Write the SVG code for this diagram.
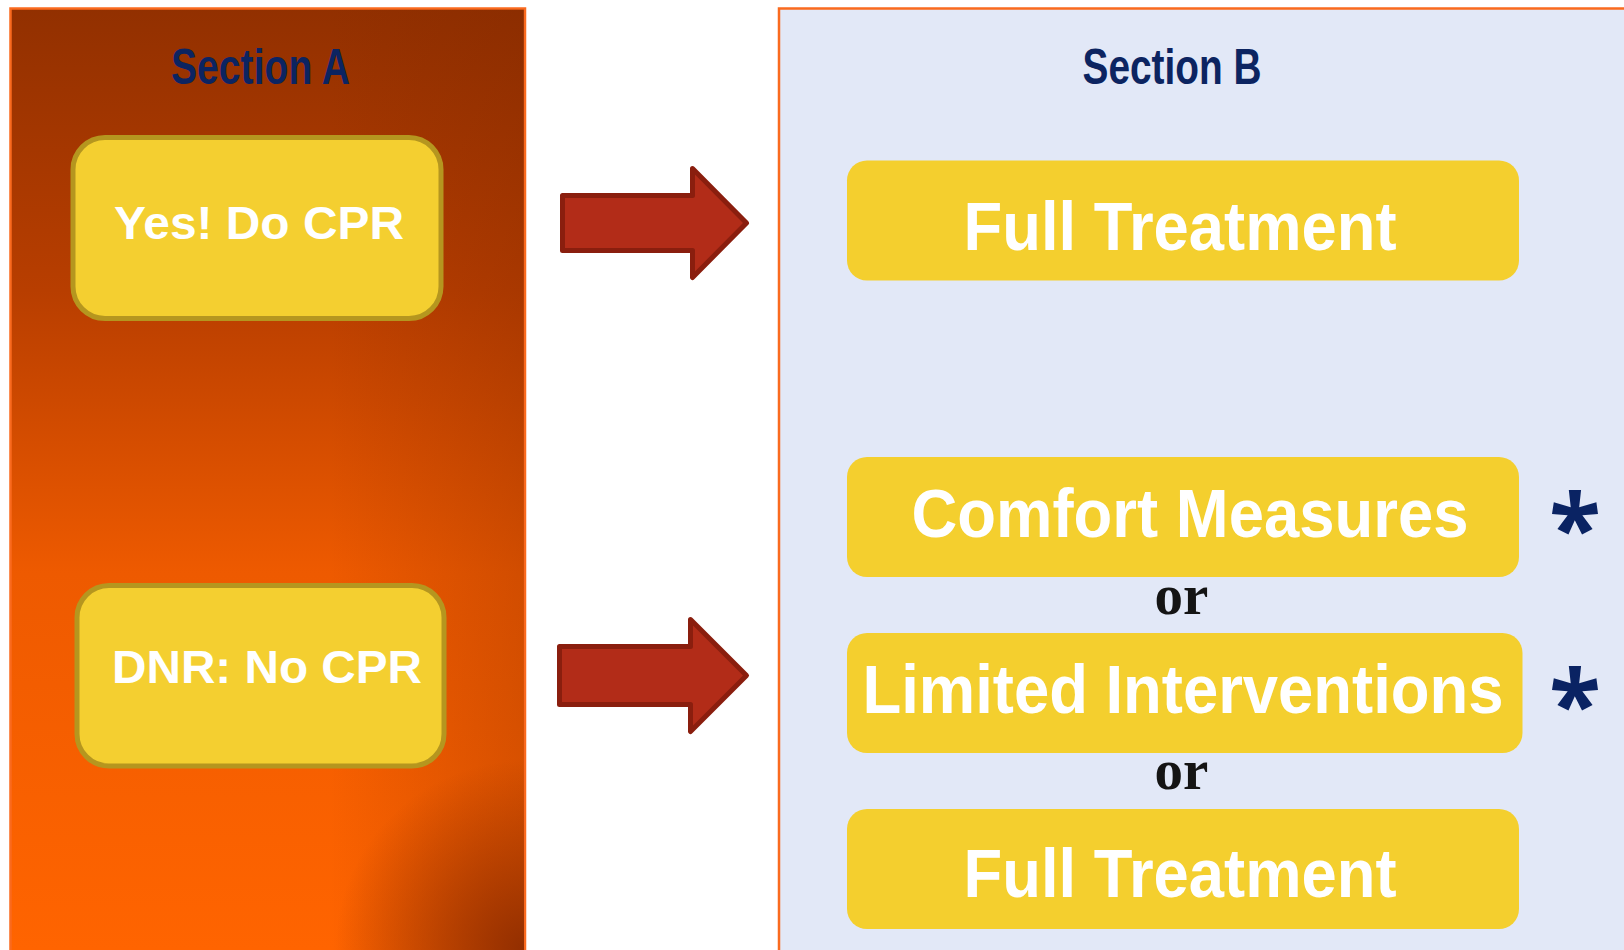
<svg xmlns="http://www.w3.org/2000/svg" width="1624" height="950" viewBox="0 0 1624 950">
  <defs>
    <linearGradient id="gA" x1="0" y1="8" x2="0" y2="950" gradientUnits="userSpaceOnUse">
      <stop offset="0" stop-color="#923000"/>
      <stop offset="0.3" stop-color="#B83E00"/>
      <stop offset="0.6" stop-color="#EE5A00"/>
      <stop offset="1" stop-color="#FF6400"/>
    </linearGradient>
    <linearGradient id="gAside" x1="330" y1="0" x2="525" y2="0" gradientUnits="userSpaceOnUse">
      <stop offset="0" stop-color="#7A2400" stop-opacity="0"/>
      <stop offset="1" stop-color="#7A2400" stop-opacity="0.25"/>
    </linearGradient>
    <radialGradient id="gAcorner" cx="525" cy="950" r="190" gradientUnits="userSpaceOnUse">
      <stop offset="0" stop-color="#8A2A00" stop-opacity="0.9"/>
      <stop offset="1" stop-color="#8A2A00" stop-opacity="0"/>
    </radialGradient>
    <style>
      .panel { stroke: #FA6A1E; stroke-width: 2.5; }
      .title { font-family: "Liberation Sans Narrow", "Liberation Sans", Arial, sans-serif; font-weight: bold; font-size: 50px; fill: #0C2461; text-anchor: middle; }
      .boxA { fill: #F4CF30; stroke: #B5961F; stroke-width: 5; }
      .txtA { font-family: "Liberation Sans", Arial, sans-serif; font-weight: bold; font-size: 47px; fill: #FFFFFF; text-anchor: middle; }
      .boxB { fill: #F4CF2E; }
      .txtB { font-family: "Liberation Sans Narrow", "Liberation Sans", Arial, sans-serif; font-weight: bold; font-size: 69px; fill: #FFFFFF; text-anchor: middle; }
      .or { font-family: "Liberation Serif", "Times New Roman", serif; font-weight: bold; font-size: 57px; fill: #141414; text-anchor: middle; }
      .star { font-family: "Noto Sans", sans-serif; font-weight: bold; font-size: 95px; fill: #0A2363; text-anchor: middle; }
      .arrow { fill: #B22C18; stroke: #8A1E0E; stroke-width: 5; stroke-linejoin: round; }
    </style>
  </defs>

  <rect width="1624" height="950" fill="#FFFFFF"/>

  <g id="sectionA">
    <rect class="panel" x="10.5" y="8.5" width="514.5" height="950" fill="url(#gA)"/>
    <rect x="11.5" y="9.5" width="512.5" height="950" fill="url(#gAside)"/>
    <rect x="11.5" y="9.5" width="512.5" height="950" fill="url(#gAcorner)"/>
    <text class="title" x="260.5" y="83.5" textLength="179" lengthAdjust="spacingAndGlyphs">Section A</text>
  </g>

  <g id="sectionB">
    <rect class="panel" x="779" y="8.5" width="860" height="950" fill="#E2E8F7"/>
    <text class="title" x="1172" y="83.5" textLength="179" lengthAdjust="spacingAndGlyphs">Section B</text>
  </g>

  <g id="yesCPR">
    <rect class="boxA" x="73" y="137.5" width="368" height="181" rx="32"/>
    <text class="txtA" x="259" y="239" textLength="290" lengthAdjust="spacingAndGlyphs">Yes! Do CPR</text>
  </g>

  <g id="dnr">
    <rect class="boxA" x="77" y="585.5" width="367" height="180.5" rx="32"/>
    <text class="txtA" x="267" y="682.5" textLength="310" lengthAdjust="spacingAndGlyphs">DNR: No CPR</text>
  </g>

  <g id="fullTreatment1">
    <rect class="boxB" x="847" y="160.5" width="672" height="120" rx="20"/>
    <text class="txtB" x="1180" y="249.5" textLength="433" lengthAdjust="spacingAndGlyphs">Full Treatment</text>
  </g>

  <g id="comfortMeasures">
    <rect class="boxB" x="847" y="457" width="672" height="120" rx="20"/>
    <text class="txtB" x="1190" y="536.5" textLength="557" lengthAdjust="spacingAndGlyphs">Comfort Measures</text>
    <text class="star" x="1575" y="562">*</text>
  </g>

  <text class="or" x="1181.5" y="614">or</text>

  <g id="limitedInterventions">
    <rect class="boxB" x="847" y="633" width="675.5" height="120" rx="20"/>
    <text class="txtB" x="1183" y="712.5" textLength="641" lengthAdjust="spacingAndGlyphs">Limited Interventions</text>
    <text class="star" x="1575" y="738">*</text>
  </g>

  <text class="or" x="1181.5" y="789">or</text>

  <g id="fullTreatment2">
    <rect class="boxB" x="847" y="809" width="672" height="120" rx="20"/>
    <text class="txtB" x="1180" y="897" textLength="433" lengthAdjust="spacingAndGlyphs">Full Treatment</text>
  </g>

  <g id="connectors">
    <path class="arrow" d="M562.5,195.5 H692.5 V168.5 L746.5,223 L692.5,277.5 V250.5 H562.5 Z"/>
    <path class="arrow" d="M559.5,646.5 H690.5 V619.5 L746.5,675.5 L690.5,731.5 V704.5 H559.5 Z"/>
  </g>
</svg>
